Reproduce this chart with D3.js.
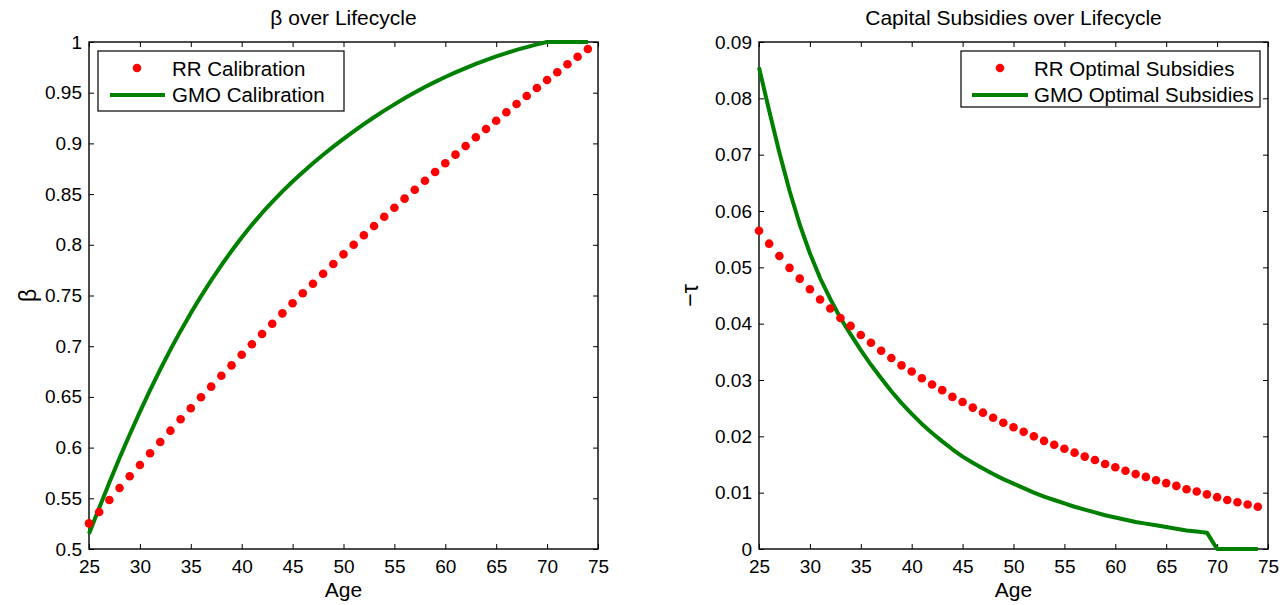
<!DOCTYPE html>
<html>
<head>
<meta charset="utf-8">
<script src="https://cdn.jsdelivr.net/npm/d3@7"></script>
<style>
  body { margin: 0; background: white; }
  svg { display: block; font-family: "Liberation Sans", Arial, sans-serif; }
  .tick text { font-size: 19px; fill: black; }
</style>
</head>
<body>
<div class="chart"></div>
<script>
// ages on the x axis
const ages = [25, 26, 27, 28, 29, 30, 31, 32, 33, 34, 35, 36, 37, 38, 39, 40, 41, 42, 43, 44,
              45, 46, 47, 48, 49, 50, 51, 52, 53, 54, 55, 56, 57, 58, 59, 60, 61, 62, 63, 64,
              65, 66, 67, 68, 69, 70, 71, 72, 73, 74];

// beta, RR calibration (dots)
const rrBeta = [0.5253, 0.5365, 0.5483, 0.5602, 0.5717, 0.5828, 0.5944, 0.6055, 0.6167, 0.6279,
                0.6388, 0.6496, 0.6601, 0.6709, 0.6811, 0.6916, 0.7019, 0.7120, 0.7222, 0.7324,
                0.7423, 0.7522, 0.7616, 0.7715, 0.7811, 0.7906, 0.8001, 0.8094, 0.8185, 0.8277,
                0.8366, 0.8455, 0.8543, 0.8632, 0.8718, 0.8804, 0.8889, 0.8974, 0.9060, 0.9142,
                0.9224, 0.9307, 0.9389, 0.9467, 0.9546, 0.9625, 0.9701, 0.9780, 0.9855, 0.9931];

// beta, GMO calibration (line)
const gmoBeta = [0.5150, 0.5405, 0.5655, 0.5898, 0.6129, 0.6352, 0.6566, 0.6771, 0.6966, 0.7151,
                 0.7326, 0.7492, 0.7649, 0.7798, 0.7939, 0.8072, 0.8197, 0.8314, 0.8424, 0.8527,
                 0.8624, 0.8716, 0.8804, 0.8888, 0.8968, 0.9045, 0.9119, 0.9190, 0.9258, 0.9323,
                 0.9385, 0.9445, 0.9502, 0.9556, 0.9607, 0.9655, 0.9700, 0.9743, 0.9784, 0.9822,
                 0.9858, 0.9891, 0.9922, 0.9950, 0.9976, 1.0000, 1.0000, 1.0000, 1.0000, 1.0000];

// subsidies, RR (dots)
const rrTau = [0.0565, 0.0542, 0.0520, 0.0499, 0.0480, 0.0461, 0.0443, 0.0427, 0.0410, 0.0396,
               0.0380, 0.0366, 0.0352, 0.0339, 0.0326, 0.0315, 0.0303, 0.0292, 0.0282, 0.0270,
               0.0261, 0.0251, 0.0242, 0.0233, 0.0224, 0.0216, 0.0208, 0.0200, 0.0192, 0.0185,
               0.0178, 0.0171, 0.0164, 0.0158, 0.0151, 0.0145, 0.0139, 0.0133, 0.0128, 0.0122,
               0.0117, 0.0112, 0.0106, 0.0102, 0.0097, 0.0092, 0.0087, 0.0083, 0.0079, 0.0075];

// subsidies, GMO (line)
const gmoTau = [0.0855, 0.0778, 0.0704, 0.0636, 0.0576, 0.0525, 0.0481, 0.0444, 0.0410, 0.0381,
                0.0353, 0.0327, 0.0303, 0.0280, 0.0259, 0.0240, 0.0222, 0.0206, 0.0191, 0.0177,
                0.0164, 0.0153, 0.0143, 0.0133, 0.0124, 0.0116, 0.0108, 0.0100, 0.0093, 0.0087,
                0.0081, 0.0075, 0.0070, 0.0065, 0.0060, 0.0056, 0.0052, 0.0048, 0.0045, 0.0042,
                0.0039, 0.0036, 0.0033, 0.0031, 0.0029, 0, 0, 0, 0, 0];

// tick labels
const ageTicks = [25, 30, 35, 40, 45, 50, 55, 60, 65, 70, 75];
const betaTicks = [0.5, 0.55, 0.6, 0.65, 0.7, 0.75, 0.8, 0.85, 0.9, 0.95, 1];
const tauTicks = [0, 0.01, 0.02, 0.03, 0.04, 0.05, 0.06, 0.07, 0.08, 0.09];

const W = 1286, H = 605;
const plotTop = 42, plotH = 507, plotW = 509;

const svg = d3.select(".chart").append("svg")
    .attr("width", W)
    .attr("height", H);

svg.append("rect").attr("width", W).attr("height", H).attr("fill", "white");

drawPanel({
    left: 89,
    title: "β over Lifecycle",
    ylabel: "β",
    ylabelX: 28,
    yDomain: [0.5, 1],
    yTicks: betaTicks,
    dots: rrBeta,
    line: gmoBeta,
    legend: {x: 9, y: 9, w: 246, h: 60, dotX: 48, lineX1: 21, lineX2: 76, textX: 83,
             labels: ["RR Calibration", "GMO Calibration"]}
});

drawPanel({
    left: 759,
    title: "Capital Subsidies over Lifecycle",
    ylabel: "−τ",
    ylabelX: 690,
    yDomain: [0, 0.09],
    yTicks: tauTicks,
    dots: rrTau,
    line: gmoTau,
    legend: {x: 202, y: 9, w: 299, h: 56, dotX: 241, lineX1: 213, lineX2: 269, textX: 275,
             labels: ["RR Optimal Subsidies", "GMO Optimal Subsidies"]}
});

function drawPanel(o) {
    const g = svg.append("g")
        .attr("transform", `translate(${o.left},${plotTop})`);

    const x = d3.scaleLinear().domain([25, 75]).range([0, plotW]);
    const y = d3.scaleLinear().domain(o.yDomain).range([plotH, 0]);
    const fmt = v => String(+v.toFixed(2));

    // axes with inward ticks, box on all sides
    g.append("g")
        .attr("transform", `translate(0,${plotH})`)
        .call(d3.axisBottom(x).tickValues(ageTicks).tickSize(-5).tickPadding(11).tickFormat(fmt))
        .call(a => a.select(".domain").remove());
    g.append("g")
        .call(d3.axisTop(x).tickValues(ageTicks).tickSize(-5).tickFormat(""))
        .call(a => a.select(".domain").remove());
    g.append("g")
        .call(d3.axisLeft(y).tickValues(o.yTicks).tickSize(-5).tickPadding(7).tickFormat(fmt))
        .call(a => a.select(".domain").remove());
    g.append("g")
        .attr("transform", `translate(${plotW},0)`)
        .call(d3.axisRight(y).tickValues(o.yTicks).tickSize(-5).tickFormat(""))
        .call(a => a.select(".domain").remove());

    g.selectAll(".tick line").attr("stroke", "black").attr("stroke-width", 1);
    g.selectAll("g").attr("font-family", null).attr("font-size", null);

    g.append("rect")
        .attr("width", plotW)
        .attr("height", plotH)
        .attr("fill", "none")
        .attr("stroke", "black")
        .attr("stroke-width", 1.4);

    // GMO line
    const line = d3.line()
        .x((d, i) => x(ages[i]))
        .y(d => y(d));

    g.append("path")
        .datum(o.line)
        .attr("fill", "none")
        .attr("stroke", "#008000")
        .attr("stroke-width", 4)
        .attr("stroke-linejoin", "round")
        .attr("d", line);

    // RR dots
    g.selectAll(".dot")
        .data(o.dots)
        .join("circle")
        .attr("class", "dot")
        .attr("cx", (d, i) => x(ages[i]))
        .attr("cy", d => y(d))
        .attr("r", 4.3)
        .attr("fill", "red");

    // title + labels
    g.append("text")
        .attr("x", plotW / 2)
        .attr("y", -17)
        .attr("text-anchor", "middle")
        .attr("font-size", 21)
        .text(o.title);

    g.append("text")
        .attr("x", plotW / 2)
        .attr("y", plotH + 48)
        .attr("text-anchor", "middle")
        .attr("font-size", 21)
        .text("Age");

    svg.append("text")
        .attr("transform", `translate(${o.ylabelX},${plotTop + plotH / 2}) rotate(-90)`)
        .attr("text-anchor", "middle")
        .attr("dy", "0.35em")
        .attr("font-size", 23)
        .text(o.ylabel);

    // legend
    const L = o.legend;
    const lg = g.append("g").attr("transform", `translate(${L.x},${L.y})`);
    lg.append("rect")
        .attr("width", L.w)
        .attr("height", L.h)
        .attr("fill", "white")
        .attr("stroke", "black")
        .attr("stroke-width", 1.2);
    lg.append("circle")
        .attr("cx", L.dotX - L.x)
        .attr("cy", 17)
        .attr("r", 4.3)
        .attr("fill", "red");
    lg.append("line")
        .attr("x1", L.lineX1 - L.x)
        .attr("x2", L.lineX2 - L.x)
        .attr("y1", 44)
        .attr("y2", 44)
        .attr("stroke", "#008000")
        .attr("stroke-width", 4);
    lg.selectAll(".ltext")
        .data(L.labels)
        .join("text")
        .attr("class", "ltext")
        .attr("x", L.textX - L.x)
        .attr("y", (d, i) => 25 + i * 26)
        .attr("font-size", 20.5)
        .text(d => d);
}
</script>
</body>
</html>
